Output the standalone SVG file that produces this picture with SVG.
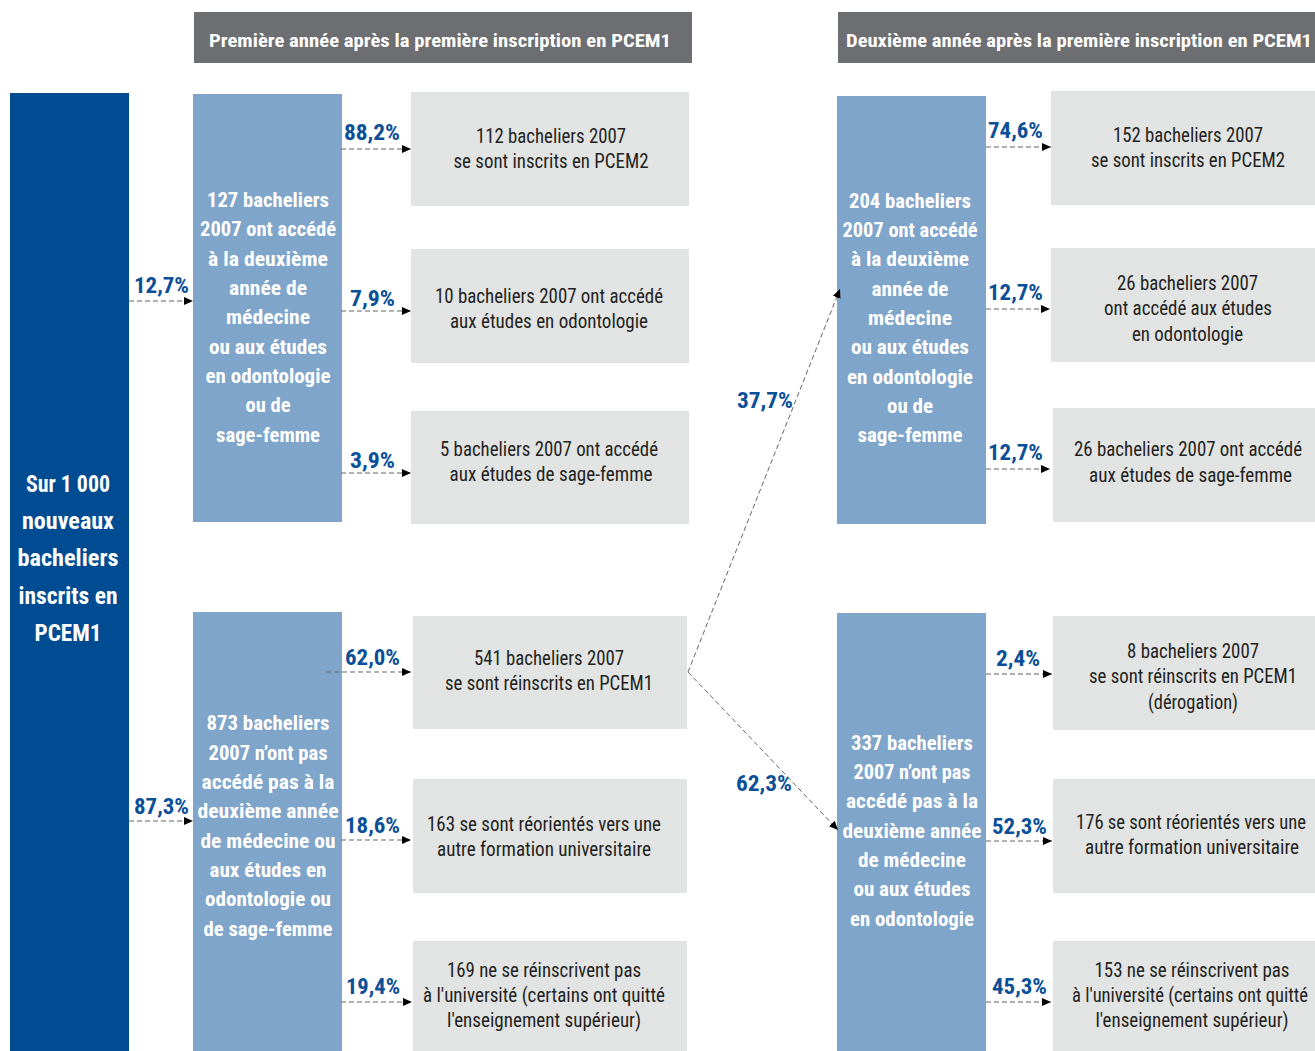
<svg xmlns="http://www.w3.org/2000/svg" width="1315" height="1051" viewBox="0 0 1315 1051">
<style>
text{font-family:"Liberation Sans Narrow","Roboto Condensed","Liberation Sans",Arial,sans-serif;text-anchor:middle}
.hd{font-size:19px;font-weight:bold;fill:#fff}
.nb{font-size:21px;font-weight:bold;fill:#fff}
.nm{font-size:23px;font-weight:bold;fill:#fff}
.pc{font-size:22px;font-weight:bold;fill:#0b4f98}
.gt{font-size:20px;fill:#231f20}
.hdr{fill:#6d6e71}
.main{fill:#004c93}
.lb{fill:#80a5ca}
.gb{fill:#e2e3e3}
.cn{stroke:#666;stroke-width:1;stroke-dasharray:5 3;fill:none;marker-end:url(#ah)}
</style>
<defs>
<marker id="ah" markerUnits="userSpaceOnUse" markerWidth="9" markerHeight="8" refX="9" refY="4" orient="auto"><path d="M0,0 L9,4 L0,8 z" fill="#000"/></marker>
</defs>

<g id="header1"><rect class="hdr" x="194" y="12" width="498" height="51"/><text class="hd" x="440" y="47" textLength="462" lengthAdjust="spacingAndGlyphs">Première année après la première inscription en PCEM1</text></g>
<g id="header2"><rect class="hdr" x="838" y="12" width="477" height="51"/><text class="hd" x="1079" y="47" textLength="466" lengthAdjust="spacingAndGlyphs">Deuxième année après la première inscription en PCEM1</text></g>

<g id="main"><rect class="main" x="10" y="93" width="119" height="958"/>
<text class="nm" x="68" y="492" textLength="84" lengthAdjust="spacingAndGlyphs">Sur 1 000</text>
<text class="nm" x="68" y="529" textLength="92" lengthAdjust="spacingAndGlyphs">nouveaux</text>
<text class="nm" x="68" y="566" textLength="101" lengthAdjust="spacingAndGlyphs">bacheliers</text>
<text class="nm" x="68" y="604" textLength="99" lengthAdjust="spacingAndGlyphs">inscrits en</text>
<text class="nm" x="68" y="641" textLength="67" lengthAdjust="spacingAndGlyphs">PCEM1</text>
</g>

<g id="y1-access"><rect class="lb" x="193" y="94" width="149" height="428"/>
<text class="nb" x="268" y="206.5" textLength="122" lengthAdjust="spacingAndGlyphs">127 bacheliers</text>
<text class="nb" x="268" y="235.5" textLength="136" lengthAdjust="spacingAndGlyphs">2007 ont accédé</text>
<text class="nb" x="268" y="265.5" textLength="120" lengthAdjust="spacingAndGlyphs">à la deuxième</text>
<text class="nb" x="268" y="294.5" textLength="78" lengthAdjust="spacingAndGlyphs">année de</text>
<text class="nb" x="268" y="323.5" textLength="84" lengthAdjust="spacingAndGlyphs">médecine</text>
<text class="nb" x="268" y="353.5" textLength="118" lengthAdjust="spacingAndGlyphs">ou aux études</text>
<text class="nb" x="268" y="382.5" textLength="125" lengthAdjust="spacingAndGlyphs">en odontologie</text>
<text class="nb" x="268" y="411.5" textLength="45" lengthAdjust="spacingAndGlyphs">ou de</text>
<text class="nb" x="268" y="441.5" textLength="104" lengthAdjust="spacingAndGlyphs">sage-femme</text>
</g>

<g id="y1-noaccess"><rect class="lb" x="193" y="612" width="149" height="439"/>
<text class="nb" x="268" y="729.5" textLength="123" lengthAdjust="spacingAndGlyphs">873 bacheliers</text>
<text class="nb" x="268" y="759.5" textLength="119" lengthAdjust="spacingAndGlyphs">2007 n’ont pas</text>
<text class="nb" x="268" y="788.5" textLength="133" lengthAdjust="spacingAndGlyphs">accédé pas à la</text>
<text class="nb" x="268" y="817.5" textLength="141" lengthAdjust="spacingAndGlyphs">deuxième année</text>
<text class="nb" x="268" y="847.5" textLength="135" lengthAdjust="spacingAndGlyphs">de médecine ou</text>
<text class="nb" x="268" y="876.5" textLength="117" lengthAdjust="spacingAndGlyphs">aux études en</text>
<text class="nb" x="268" y="905.5" textLength="126" lengthAdjust="spacingAndGlyphs">odontologie ou</text>
<text class="nb" x="268" y="935.5" textLength="129" lengthAdjust="spacingAndGlyphs">de sage-femme</text>
</g>

<g id="b1"><rect class="gb" x="411" y="92" width="278" height="114"/>
<text class="gt" x="551" y="142.5" textLength="150" lengthAdjust="spacingAndGlyphs">112 bacheliers 2007</text>
<text class="gt" x="551" y="167.5" textLength="195" lengthAdjust="spacingAndGlyphs">se sont inscrits en PCEM2</text></g>
<g id="b2"><rect class="gb" x="411" y="249" width="278" height="114"/>
<text class="gt" x="549" y="302.5" textLength="228" lengthAdjust="spacingAndGlyphs">10 bacheliers 2007 ont accédé</text>
<text class="gt" x="549" y="327.5" textLength="198" lengthAdjust="spacingAndGlyphs">aux études en odontologie</text></g>
<g id="b3"><rect class="gb" x="411" y="411" width="278" height="113"/>
<text class="gt" x="549" y="455.5" textLength="218" lengthAdjust="spacingAndGlyphs">5 bacheliers 2007 ont accédé</text>
<text class="gt" x="551" y="480.5" textLength="203" lengthAdjust="spacingAndGlyphs">aux études de sage-femme</text></g>
<g id="b4"><rect class="gb" x="413" y="616" width="274" height="113"/>
<text class="gt" x="549" y="664.5" textLength="150" lengthAdjust="spacingAndGlyphs">541 bacheliers 2007</text>
<text class="gt" x="549" y="689.5" textLength="208" lengthAdjust="spacingAndGlyphs">se sont réinscrits en PCEM1</text></g>
<g id="b5"><rect class="gb" x="413" y="779" width="274" height="114"/>
<text class="gt" x="544" y="830.5" textLength="234" lengthAdjust="spacingAndGlyphs">163 se sont réorientés vers une</text>
<text class="gt" x="544" y="855.5" textLength="214" lengthAdjust="spacingAndGlyphs">autre formation universitaire</text></g>
<g id="b6"><rect class="gb" x="413" y="941" width="274" height="110"/>
<text class="gt" x="544" y="976.5" textLength="194" lengthAdjust="spacingAndGlyphs">169 ne se réinscrivent pas</text>
<text class="gt" x="544" y="1001.5" textLength="242" lengthAdjust="spacingAndGlyphs">à l'université (certains ont quitté</text>
<text class="gt" x="544" y="1026.5" textLength="194" lengthAdjust="spacingAndGlyphs">l'enseignement supérieur)</text></g>

<g id="y2-access"><rect class="lb" x="837" y="96" width="149" height="428"/>
<text class="nb" x="910" y="207.5" textLength="122" lengthAdjust="spacingAndGlyphs">204 bacheliers</text>
<text class="nb" x="910" y="236.5" textLength="135" lengthAdjust="spacingAndGlyphs">2007 ont accédé</text>
<text class="nb" x="910" y="265.5" textLength="118" lengthAdjust="spacingAndGlyphs">à la deuxième</text>
<text class="nb" x="910" y="295.5" textLength="77" lengthAdjust="spacingAndGlyphs">année de</text>
<text class="nb" x="910" y="324.5" textLength="84" lengthAdjust="spacingAndGlyphs">médecine</text>
<text class="nb" x="910" y="353.5" textLength="118" lengthAdjust="spacingAndGlyphs">ou aux études</text>
<text class="nb" x="910" y="383.5" textLength="126" lengthAdjust="spacingAndGlyphs">en odontologie</text>
<text class="nb" x="910" y="412.5" textLength="46" lengthAdjust="spacingAndGlyphs">ou de</text>
<text class="nb" x="910" y="441.5" textLength="105" lengthAdjust="spacingAndGlyphs">sage-femme</text>
</g>

<g id="y2-noaccess"><rect class="lb" x="837" y="613" width="149" height="438"/>
<text class="nb" x="912" y="749.5" textLength="122" lengthAdjust="spacingAndGlyphs">337 bacheliers</text>
<text class="nb" x="912" y="778.5" textLength="117" lengthAdjust="spacingAndGlyphs">2007 n’ont pas</text>
<text class="nb" x="912" y="807.5" textLength="132" lengthAdjust="spacingAndGlyphs">accédé pas à la</text>
<text class="nb" x="912" y="837.5" textLength="139" lengthAdjust="spacingAndGlyphs">deuxième année</text>
<text class="nb" x="912" y="866.5" textLength="108" lengthAdjust="spacingAndGlyphs">de médecine</text>
<text class="nb" x="912" y="895.5" textLength="117" lengthAdjust="spacingAndGlyphs">ou aux études</text>
<text class="nb" x="912" y="925.5" textLength="124" lengthAdjust="spacingAndGlyphs">en odontologie</text>
</g>

<g id="r1"><rect class="gb" x="1051" y="91" width="264" height="114"/>
<text class="gt" x="1188" y="141.5" textLength="150" lengthAdjust="spacingAndGlyphs">152 bacheliers 2007</text>
<text class="gt" x="1188" y="166.5" textLength="194" lengthAdjust="spacingAndGlyphs">se sont inscrits en PCEM2</text></g>
<g id="r2"><rect class="gb" x="1051" y="248" width="264" height="114"/>
<text class="gt" x="1187.5" y="289.5" textLength="141" lengthAdjust="spacingAndGlyphs">26 bacheliers 2007</text>
<text class="gt" x="1188" y="314.5" textLength="168" lengthAdjust="spacingAndGlyphs">ont accédé aux études</text>
<text class="gt" x="1187.5" y="340.5" textLength="111" lengthAdjust="spacingAndGlyphs">en odontologie</text></g>
<g id="r3"><rect class="gb" x="1053" y="408" width="262" height="114"/>
<text class="gt" x="1188" y="455.5" textLength="228" lengthAdjust="spacingAndGlyphs">26 bacheliers 2007 ont accédé</text>
<text class="gt" x="1190.5" y="481.5" textLength="203" lengthAdjust="spacingAndGlyphs">aux études de sage-femme</text></g>
<g id="r4"><rect class="gb" x="1053" y="616" width="262" height="114"/>
<text class="gt" x="1193" y="657.5" textLength="132" lengthAdjust="spacingAndGlyphs">8 bacheliers 2007</text>
<text class="gt" x="1193" y="682.5" textLength="208" lengthAdjust="spacingAndGlyphs">se sont réinscrits en PCEM1</text>
<text class="gt" x="1193" y="708.5" textLength="90" lengthAdjust="spacingAndGlyphs">(dérogation)</text></g>
<g id="r5"><rect class="gb" x="1053" y="779" width="262" height="114"/>
<text class="gt" x="1191" y="828.5" textLength="230" lengthAdjust="spacingAndGlyphs">176 se sont réorientés vers une</text>
<text class="gt" x="1192" y="853.5" textLength="214" lengthAdjust="spacingAndGlyphs">autre formation universitaire</text></g>
<g id="r6"><rect class="gb" x="1053" y="941" width="262" height="110"/>
<text class="gt" x="1192" y="976.5" textLength="195" lengthAdjust="spacingAndGlyphs">153 ne se réinscrivent pas</text>
<text class="gt" x="1190" y="1001.5" textLength="236" lengthAdjust="spacingAndGlyphs">à l'université (certains ont quitté</text>
<text class="gt" x="1192" y="1026.5" textLength="193" lengthAdjust="spacingAndGlyphs">l'enseignement supérieur)</text></g>

<g id="connectors">
<line class="cn" x1="129" y1="301" x2="193" y2="301"/>
<line class="cn" x1="129" y1="821" x2="193" y2="821"/>
<line class="cn" x1="341" y1="149" x2="411" y2="149"/>
<line class="cn" x1="341" y1="311" x2="411" y2="311"/>
<line class="cn" x1="341" y1="473" x2="411" y2="473"/>
<line class="cn" x1="326" y1="672" x2="411" y2="672"/>
<line class="cn" x1="341" y1="840" x2="411" y2="840"/>
<line class="cn" x1="341" y1="1002" x2="412" y2="1002"/>
<polyline class="cn" points="688,672 840,289"/>
<polyline class="cn" points="688,672 838,830"/>
<line class="cn" x1="986" y1="147" x2="1051" y2="147"/>
<line class="cn" x1="986" y1="309" x2="1050" y2="309"/>
<line class="cn" x1="986" y1="469" x2="1050" y2="469"/>
<line class="cn" x1="986" y1="674" x2="1052" y2="674"/>
<line class="cn" x1="986" y1="841" x2="1052" y2="841"/>
<line class="cn" x1="986" y1="1002" x2="1051" y2="1002"/>
<text class="pc" x="161.5" y="292.5" textLength="55" lengthAdjust="spacingAndGlyphs">12,7%</text>
<text class="pc" x="161.5" y="813.5" textLength="55" lengthAdjust="spacingAndGlyphs">87,3%</text>
<text class="pc" x="372" y="139.5" textLength="56" lengthAdjust="spacingAndGlyphs">88,2%</text>
<text class="pc" x="372.5" y="305.5" textLength="45" lengthAdjust="spacingAndGlyphs">7,9%</text>
<text class="pc" x="372.5" y="467.5" textLength="45" lengthAdjust="spacingAndGlyphs">3,9%</text>
<text class="pc" x="372.5" y="664.5" textLength="55" lengthAdjust="spacingAndGlyphs">62,0%</text>
<text class="pc" x="372.5" y="832.5" textLength="55" lengthAdjust="spacingAndGlyphs">18,6%</text>
<text class="pc" x="373" y="993.5" textLength="54" lengthAdjust="spacingAndGlyphs">19,4%</text>
<text class="pc" x="765" y="407.5" textLength="56" lengthAdjust="spacingAndGlyphs">37,7%</text>
<text class="pc" x="764" y="790.5" textLength="56" lengthAdjust="spacingAndGlyphs">62,3%</text>
<text class="pc" x="1015.5" y="137.5" textLength="55" lengthAdjust="spacingAndGlyphs">74,6%</text>
<text class="pc" x="1015.5" y="299.5" textLength="55" lengthAdjust="spacingAndGlyphs">12,7%</text>
<text class="pc" x="1015.5" y="459.5" textLength="55" lengthAdjust="spacingAndGlyphs">12,7%</text>
<text class="pc" x="1018" y="665.5" textLength="44" lengthAdjust="spacingAndGlyphs">2,4%</text>
<text class="pc" x="1019.5" y="833.5" textLength="55" lengthAdjust="spacingAndGlyphs">52,3%</text>
<text class="pc" x="1019.5" y="993.5" textLength="55" lengthAdjust="spacingAndGlyphs">45,3%</text>
</g>
</svg>
